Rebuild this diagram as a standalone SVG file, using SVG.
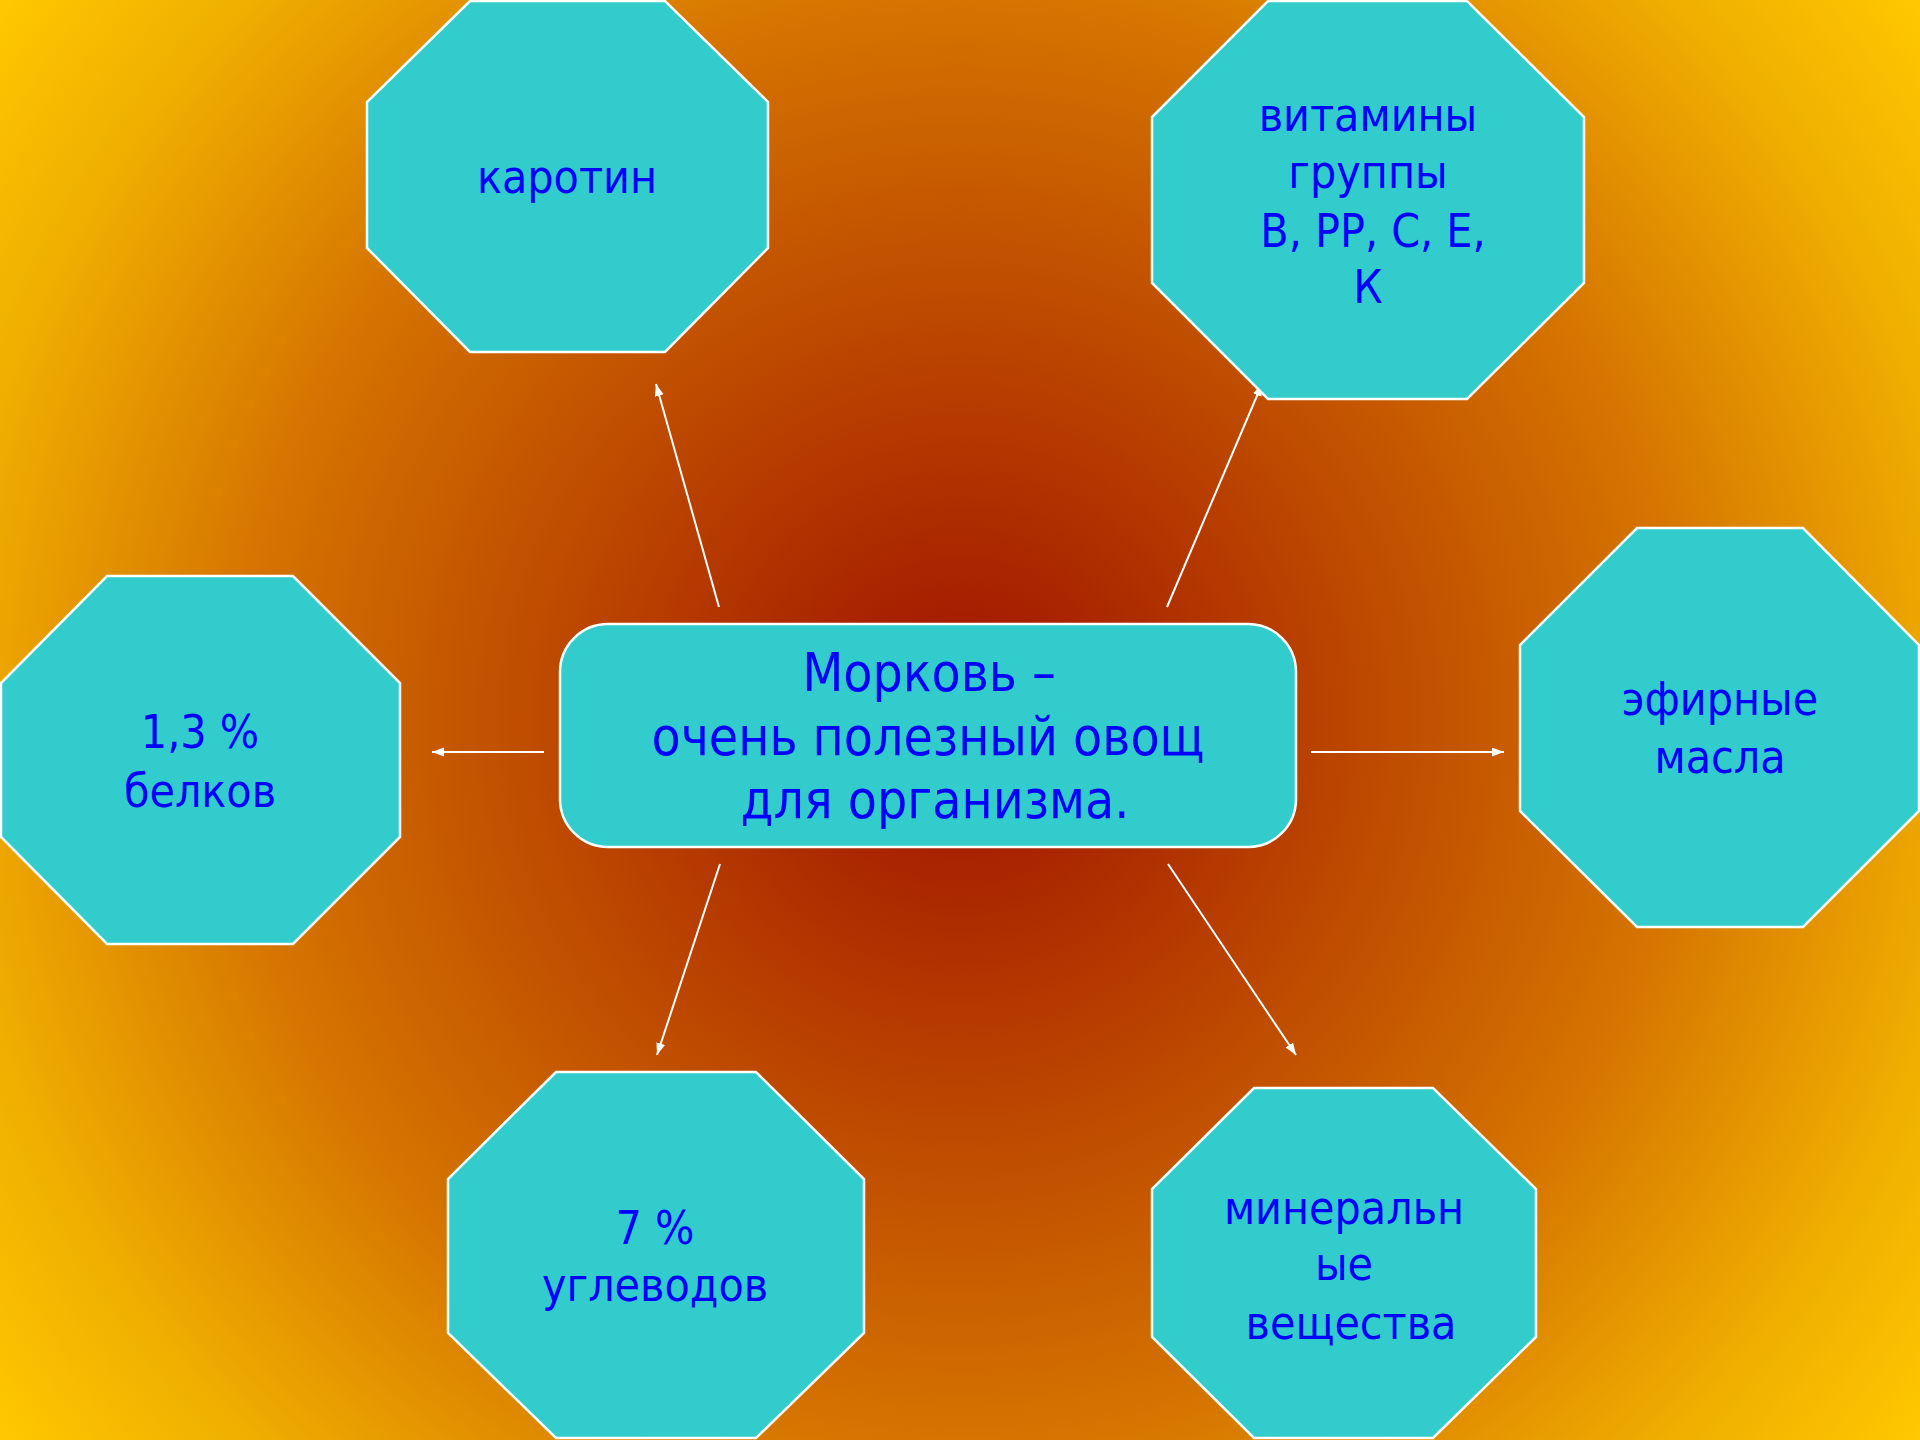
<svg xmlns="http://www.w3.org/2000/svg" width="1920" height="1440" viewBox="0 0 1920 1440">
<defs>
<radialGradient id="bg" gradientUnits="userSpaceOnUse" cx="960" cy="720" r="1200">
<stop offset="0" stop-color="#9E1000"/>
<stop offset="0.6" stop-color="#D57400"/>
<stop offset="0.84" stop-color="#F0AE00"/>
<stop offset="1" stop-color="#FFC800"/>
</radialGradient>
<marker id="ah" markerUnits="userSpaceOnUse" markerWidth="14" markerHeight="10" refX="12" refY="4.5" orient="auto">
<path d="M0,0 L12,4.5 L0,9 z" fill="#FFFFFF"/>
</marker>
<style>
.shape{fill:#33CCCC;stroke:#FFFFFF;stroke-width:2.5}
.t{font-family:"DejaVu Sans Condensed","DejaVu Sans",sans-serif;fill:#0000FF;text-anchor:middle;font-size:46px}
.tc{font-size:53px}
.conn{stroke:#FFFFFF;stroke-width:2;fill:none;marker-end:url(#ah)}
</style>
</defs>
<rect x="0" y="0" width="1920" height="1440" fill="url(#bg)"/>
<g id="connectors">
<line class="conn" x1="719" y1="607" x2="656" y2="384"/>
<line class="conn" x1="1167" y1="607" x2="1262" y2="384"/>
<line class="conn" x1="544" y1="752" x2="432" y2="752"/>
<line class="conn" x1="1311" y1="752" x2="1504" y2="752"/>
<line class="conn" x1="720" y1="864" x2="657" y2="1055"/>
<line class="conn" x1="1168" y1="864" x2="1296" y2="1055"/>
</g>
<g id="center">
<rect class="shape" x="560" y="624" width="736" height="223" rx="48" ry="48" stroke-width="3"/>
<text class="t tc" x="929" y="691">Морковь –</text>
<text class="t tc" x="928" y="755">очень полезный овощ</text>
<text class="t tc" x="935" y="818">для организма.</text>
</g>
<g id="karotin">
<polygon class="shape" points="470,1 665,1 768,102 768,248 665,352 470,352 367,248 367,102"/>
<text class="t" x="567" y="193">каротин</text>
</g>
<g id="vitamins">
<polygon class="shape" points="1268,1 1467,1 1584,117 1584,283 1467,399 1268,399 1152,283 1152,117"/>
<text class="t" x="1368" y="131">витамины</text>
<text class="t" x="1368" y="188">группы</text>
<text class="t" x="1373" y="247">В, РР, С, Е,</text>
<text class="t" x="1368" y="303">К</text>
</g>
<g id="proteins">
<polygon class="shape" points="107,576 293,576 400,683 400,837 293,944 107,944 1,837 1,683"/>
<text class="t" x="200" y="748">1,3 %</text>
<text class="t" x="200" y="807">белков</text>
</g>
<g id="oils">
<polygon class="shape" points="1637,528 1803,528 1919,645 1919,811 1803,927 1637,927 1520,811 1520,645"/>
<text class="t" x="1720" y="715">эфирные</text>
<text class="t" x="1720" y="773">масла</text>
</g>
<g id="carbs">
<polygon class="shape" points="556,1072 756,1072 864,1179 864,1333 756,1438 556,1438 448,1333 448,1179"/>
<text class="t" x="655" y="1244">7 %</text>
<text class="t" x="655" y="1301">углеводов</text>
</g>
<g id="minerals">
<polygon class="shape" points="1254,1088 1433,1088 1536,1189 1536,1337 1433,1438 1254,1438 1152,1337 1152,1189"/>
<text class="t" x="1344" y="1224">минеральн</text>
<text class="t" x="1344" y="1280">ые</text>
<text class="t" x="1351" y="1339">вещества</text>
</g>
</svg>
